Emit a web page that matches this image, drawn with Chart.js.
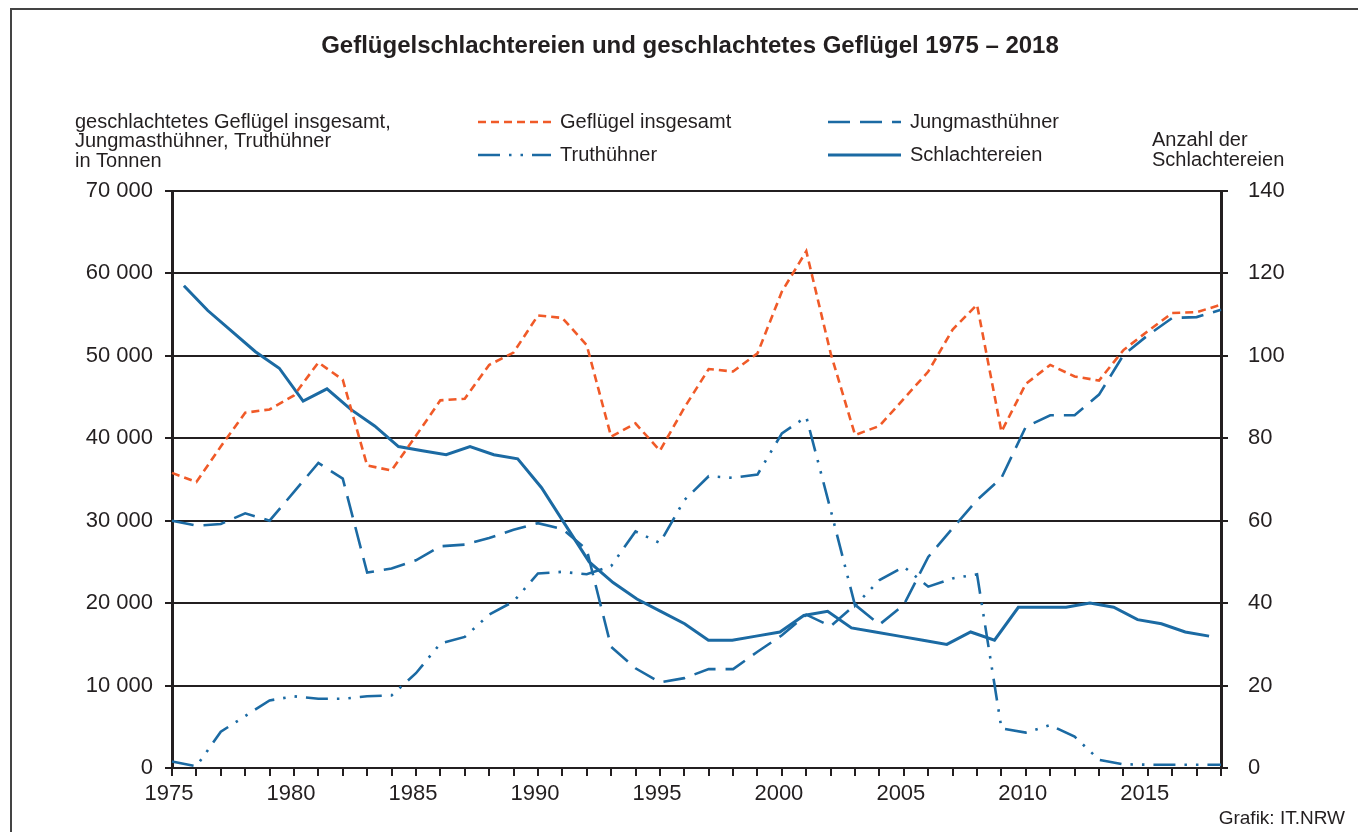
<!DOCTYPE html>
<html>
<head>
<meta charset="utf-8">
<script src="https://cdn.jsdelivr.net/npm/chart.js@4/dist/chart.umd.min.js"></script>
<style>
html,body{margin:0;padding:0;background:#fff;}
#wrap{position:relative;width:1358px;height:832px;}
#frame{position:absolute;left:10px;top:8px;width:1360px;height:840px;border:2px solid #444;box-sizing:border-box;}
canvas{position:absolute;left:0;top:0;}
</style>
</head>
<body>
<div id="wrap">
<div id="frame"></div>
<canvas id="c" width="1358" height="832"></canvas>
</div>
<script>
const years = [1975,1976,1977,1978,1979,1980,1981,1982,1983,1984,1985,1986,1987,1988,1989,1990,1991,1992,1993,1994,1995,1996,1997,1998,1999,2000,2001,2002,2003,2004,2005,2006,2007,2008,2009,2010,2011,2012,2013,2014,2015,2016,2017,2018];
const gefluegelInsgesamt = [35800,34700,39000,43100,43500,45200,49200,47100,36700,36100,40300,44600,44800,48900,50400,54900,54600,51300,40200,41800,38500,43700,48400,48100,50300,57800,62700,50300,40400,41500,44800,48100,53200,56200,40800,46600,48900,47500,47000,50700,53000,55200,55300,56200];
const jungmasthuehner = [30000,29400,29600,30900,30000,33500,37000,35100,23700,24200,25200,26900,27100,27900,28900,29700,29000,26500,14700,12100,10400,10900,12000,12000,14100,16100,18600,17200,19800,17400,19800,25600,29100,32500,35200,41400,42800,42800,45300,50100,52500,54600,54700,55600];
const truthuehner = [800,200,4400,6300,8200,8700,8400,8400,8700,8800,11500,15100,15900,18600,20200,23600,23800,23500,24500,28700,27300,32500,35400,35200,35600,40600,42600,31300,19700,22800,24400,22000,23000,23500,4800,4300,5200,3800,1000,450,400,400,400,400];
const schlachtereien = [117,111,106,101,97,89,92,87,83,78,77,76,78,76,75,68,59,50,45,41,38,35,31,31,32,33,37,38,34,33,32,31,30,33,31,39,39,39,40,39,36,35,33,32];
const leftTicks = [0,10000,20000,30000,40000,50000,60000,70000];
const rightTicks = [0,20,40,60,80,100,120,140];

const ORANGE = '#f05a28';
const BLUE = '#1b6aa3';
const INK = '#231f20';
const FONT = "'Liberation Sans', Arial, sans-serif";

const dsStyles = {
  g: {borderColor: ORANGE, borderWidth: 2.6, borderDash: [8,5]},
  j: {borderColor: BLUE, borderWidth: 2.6, borderDash: [22,10]},
  t: {borderColor: BLUE, borderWidth: 2.6, borderDash: [22,9,2.5,9,2.5,9]},
  s: {borderColor: BLUE, borderWidth: 3, borderDash: []}
};

const textPlugin = {
  id: 'texts',
  afterDraw(chart) {
    const ctx = chart.ctx;
    ctx.save();
    ctx.fillStyle = INK;
    ctx.textBaseline = 'middle';
    // title
    ctx.font = 'bold 24px ' + FONT;
    ctx.textAlign = 'center';
    ctx.fillText('Geflügelschlachtereien und geschlachtetes Geflügel 1975 – 2018', 690, 46);
    // left axis title
    ctx.font = '20px ' + FONT;
    ctx.textAlign = 'left';
    ctx.fillText('geschlachtetes Geflügel insgesamt,', 75, 122);
    ctx.fillText('Jungmasthühner, Truthühner', 75, 141);
    ctx.fillText('in Tonnen', 75, 161);
    // right axis title
    ctx.fillText('Anzahl der', 1152, 140);
    ctx.fillText('Schlachtereien', 1152, 160);
    // legend
    const items = [
      {label: 'Geflügel insgesamt', st: dsStyles.g, x: 478, y: 122},
      {label: 'Jungmasthühner', st: dsStyles.j, x: 828, y: 122},
      {label: 'Truthühner', st: dsStyles.t, x: 478, y: 155},
      {label: 'Schlachtereien', st: dsStyles.s, x: 828, y: 155}
    ];
    items.forEach(it => {
      ctx.save();
      ctx.strokeStyle = it.st.borderColor;
      ctx.lineWidth = it.st.borderWidth;
      ctx.setLineDash(it.st.borderDash);
      ctx.beginPath();
      ctx.moveTo(it.x, it.y);
      ctx.lineTo(it.x + 73, it.y);
      ctx.stroke();
      ctx.restore();
      ctx.fillText(it.label, it.x + 82, it.y);
    });
    // source
    ctx.font = '19px ' + FONT;
    ctx.textAlign = 'right';
    ctx.fillText('Grafik: IT.NRW', 1345, 819);
    ctx.restore();
  }
};

const fmt = v => String(v).replace(/\B(?=(\d{3})+(?!\d))/g, ' ');

new Chart(document.getElementById('c'), {
  type: 'line',
  data: {
    labels: years,
    datasets: [
      Object.assign({label: 'Geflügel insgesamt', data: gefluegelInsgesamt, xAxisID: 'x', yAxisID: 'y'}, dsStyles.g),
      Object.assign({label: 'Jungmasthühner', data: jungmasthuehner, xAxisID: 'x', yAxisID: 'y'}, dsStyles.j),
      Object.assign({label: 'Truthühner', data: truthuehner, xAxisID: 'x', yAxisID: 'y'}, dsStyles.t),
      Object.assign({label: 'Schlachtereien', data: schlachtereien, xAxisID: 'x2', yAxisID: 'y2'}, dsStyles.s)
    ]
  },
  options: {
    responsive: false,
    animation: false,
    devicePixelRatio: 1,
    layout: {padding: {top: 191, left: 0, right: 0, bottom: 0}},
    elements: {point: {radius: 0, hoverRadius: 0}, line: {tension: 0, borderCapStyle: 'butt', borderJoinStyle: 'miter', fill: false}},
    plugins: {legend: {display: false}, title: {display: false}, tooltip: {enabled: false}},
    scales: {
      x: {
        type: 'category', position: 'bottom', offset: false,
        grid: {drawOnChartArea: false, drawTicks: true, tickLength: 8, color: INK, lineWidth: 2},
        border: {display: true, color: INK, width: 2},
        ticks: {autoSkip: false, maxRotation: 0, minRotation: 0, padding: 5, labelOffset: -3, color: INK, font: {family: FONT, size: 22},
          callback: function(v, i) { return years[i] % 5 === 0 ? String(years[i]) : ''; }},
        afterFit: s => { s.height = 64; s.paddingLeft = 0; s.paddingRight = 0; }
      },
      x2: {
        type: 'category', position: 'bottom', offset: true, display: false
      },
      y: {
        type: 'linear', position: 'left', min: 0, max: 70000,
        afterBuildTicks: s => { s.ticks = leftTicks.map(v => ({value: v})); },
        grid: {color: INK, lineWidth: 2, drawTicks: true, tickLength: 7},
        border: {display: true, color: INK, width: 3},
        ticks: {color: INK, padding: 12, font: {family: FONT, size: 22}, callback: v => fmt(v)},
        afterFit: s => { s.width = 172; s.paddingTop = 0; s.paddingBottom = 0; }
      },
      y2: {
        type: 'linear', position: 'right', min: 0, max: 140,
        afterBuildTicks: s => { s.ticks = rightTicks.map(v => ({value: v})); },
        grid: {drawOnChartArea: false, color: INK, lineWidth: 2, drawTicks: true, tickLength: 7},
        border: {display: true, color: INK, width: 3},
        ticks: {color: INK, padding: 20, font: {family: FONT, size: 22}},
        afterFit: s => { s.width = 137; s.paddingTop = 0; s.paddingBottom = 0; }
      }
    }
  },
  plugins: [textPlugin]
});
</script>
</body>
</html>
